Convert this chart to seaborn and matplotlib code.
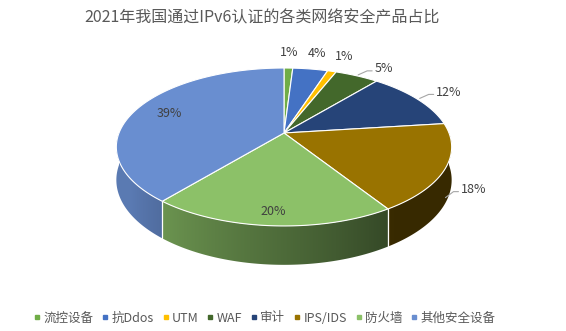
import numpy as np
import matplotlib
matplotlib.use("Agg")
import matplotlib.pyplot as plt
from matplotlib.patches import Polygon
from matplotlib.lines import Line2D
import seaborn as sns

# ---- data ----
categories = ["流控设备", "抗Ddos", "UTM", "WAF", "审计", "IPS/IDS", "防火墙", "其他安全设备"]
shares = [1, 4, 1, 5, 12, 18, 20, 39]
colors_hex = ["#70AD47", "#4472C4", "#FFC000", "#43682B",
              "#264478", "#997300", "#8CC168", "#698ED0"]
title = "2021年我国通过IPv6认证的各类网络安全产品占比"

sns.set_theme(style="white")
plt.rcParams["font.family"] = ["Noto Sans CJK SC", "DejaVu Sans"]
palette = sns.color_palette(colors_hex)

W, H = 566, 331
fig = plt.figure(figsize=(W / 100, H / 100), dpi=100)
ax = fig.add_axes([0, 0, 1, 1])
ax.set_xlim(0, W)
ax.set_ylim(H, 0)
ax.axis("off")

# 3D pie geometry (pixel space, perspective tilt)
CX, CY = 284.0, 133.0
A, B = 165.0, 76.5
P = 0.177
T = 32.0


def proj(phi_deg, r=1.0, h=0.0):
    phi = np.radians(phi_deg)
    u = r * np.sin(phi)
    v = -r * np.cos(phi)
    w = 1.0 / (1.0 - P * v)
    return CX + A * u * w, CY + B * v * w + T * h * w


def side_factor(phi):
    return np.clip(0.38 + (phi - 148.0) / 72.0 * 0.39, 0.36, 0.86)


total = float(sum(shares))
bounds = np.concatenate([[0.0], np.cumsum(shares)]) / total * 360.0

# x position on the front rim -> angle, used to shade the wall
rim_phi = np.linspace(270, 90, 721)
rim_x = np.array([proj(p)[0] for p in rim_phi])

# side walls (front half only), shaded with a horizontal gradient
for i in range(len(shares)):
    a0, a1 = max(bounds[i], 90.0), min(bounds[i + 1], 270.0)
    if a1 <= a0:
        continue
    angs = np.linspace(a0, a1, 200)
    top = [proj(a) for a in angs]
    bot = [proj(a, h=1) for a in angs[::-1]]
    pts = np.array(top + bot)
    wall = Polygon(pts, closed=True, facecolor="none", edgecolor="none", zorder=1)
    ax.add_patch(wall)
    x0, x1 = pts[:, 0].min() - 1, pts[:, 0].max() + 1
    y0, y1 = pts[:, 1].min() - 1, pts[:, 1].max() + 1
    xs = np.linspace(x0, x1, 300)
    f = side_factor(np.interp(xs, rim_x, rim_phi))
    base = np.array(palette[i])
    img = np.tile((f[:, None] * base[None, :])[None, :, :], (4, 1, 1))
    im = ax.imshow(img, extent=(x0, x1, y1, y0), origin="upper",
                   aspect="auto", interpolation="bilinear", zorder=1)
    im.set_clip_path(wall)

ax.set_xlim(0, W)
ax.set_ylim(H, 0)

# white seams on the side wall at slice boundaries
for b in bounds[1:-1]:
    if 90 < b < 270:
        xa, ya = proj(b)
        xb, yb = proj(b, h=1)
        ax.plot([xa, xb], [ya, yb], color="white", lw=0.9, zorder=2)

# top faces
for i in range(len(shares)):
    angs = np.linspace(bounds[i], bounds[i + 1], max(3, int(shares[i] * 6)))
    pts = [proj(0, r=0.0)] + [proj(a) for a in angs]
    ax.add_patch(Polygon(pts, closed=True, facecolor=palette[i],
                         edgecolor="white", lw=0.8, zorder=3))

# value labels
label_color = "#404040"
for i, val in enumerate(shares):
    mid = 0.5 * (bounds[i] + bounds[i + 1])
    txt = f"{val}%"
    if val >= 19:
        r = 0.77 if val > 30 else 0.87
        x, y = proj(mid, r=r)
        ax.text(x, y, txt, ha="center", va="center", fontsize=9,
                color=label_color, zorder=5)
    elif val <= 4:
        x, y = proj(mid, r=1.30)
        ax.text(x, y, txt, ha="center", va="center", fontsize=9,
                color=label_color, zorder=5)
    else:
        near = -np.cos(np.radians(mid)) > 0
        if near:
            sx, sy = proj(mid, r=1.0, h=0.85)
            ex, ey = sx + 8, sy - 6
        else:
            sx, sy = proj(mid, r=1.02)
            ex, ey = sx + 9, sy - 4
        fx = ex + 5
        ax.plot([sx, ex, fx], [sy, ey, ey], color="#A6A6A6", lw=0.8, zorder=4)
        ax.text(fx + 2, ey - 2, txt, ha="left", va="center", fontsize=9,
                color=label_color, zorder=5)

ax.text(W / 2 - 21, 18, title, ha="center", va="center", fontsize=11.5,
        color="#595959")

handles = [Line2D([0], [0], marker="s", linestyle="none", markersize=3.5,
                  markerfacecolor=palette[i], markeredgecolor=palette[i])
           for i in range(len(categories))]
leg = ax.legend(handles, categories, loc="center", bbox_to_anchor=(265 / W, 1 - 318 / H),
                ncol=len(categories), frameon=False, fontsize=9,
                handlelength=0.4, handletextpad=0.3, columnspacing=0.75,
                borderaxespad=0, borderpad=0)
for t in leg.get_texts():
    t.set_color("#595959")

fig.savefig("out.png", dpi=100)
